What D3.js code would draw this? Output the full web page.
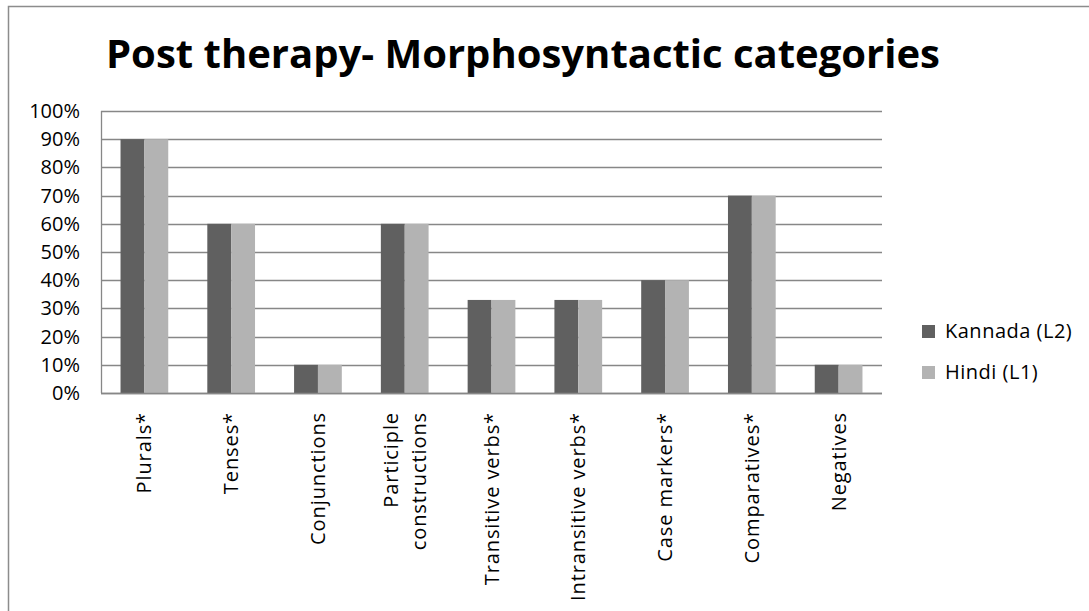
<!DOCTYPE html>
<html>
<head>
<meta charset="utf-8">
<script src="https://cdn.jsdelivr.net/npm/d3@7"></script>
<style>
  body { margin: 0; background: #fff; }
  text { font-family: "Open Sans", "Noto Sans", sans-serif; fill: #000; }
</style>
</head>
<body>
<div id="chart"></div>
<script>
const categories = ["Plurals*", "Tenses*", "Conjunctions", "Participle constructions",
  "Transitive verbs*", "Intransitive verbs*", "Case markers*", "Comparatives*", "Negatives"];
const seriesNames = ["Kannada (L2)", "Hindi (L1)"];
const kannada = [0.9, 0.6, 0.1, 0.6, 0.33, 0.33, 0.4, 0.7, 0.1];
const hindi = [0.9, 0.6, 0.1, 0.6, 0.33, 0.33, 0.4, 0.7, 0.1];
const yTicks = [0, 0.1, 0.2, 0.3, 0.4, 0.5, 0.6, 0.7, 0.8, 0.9, 1.0];
const colors = ["#606060", "#b3b3b3"];

let dimensions = {
  width: 1089,
  height: 611,
  margin: { top: 111, right: 207, bottom: 218, left: 101 }
};
dimensions.boundedWidth = dimensions.width - dimensions.margin.left - dimensions.margin.right;
dimensions.boundedHeight = dimensions.height - dimensions.margin.top - dimensions.margin.bottom;

let svgRoot = d3.select("#chart").append("svg")
  .attr("width", dimensions.width)
  .attr("height", dimensions.height);

// outer chart frame
svgRoot.append("rect")
  .attr("x", 8.5).attr("y", 6.5)
  .attr("width", 1200).attr("height", 800)
  .attr("fill", "none")
  .attr("stroke", "#8c8c8c")
  .attr("stroke-width", 1.5);

svgRoot.append("text")
  .attr("x", 523).attr("y", 68)
  .attr("text-anchor", "middle")
  .style("font-size", "40px")
  .style("font-weight", "bold")
  .text("Post therapy- Morphosyntactic categories");

let svg = svgRoot.append("g")
  .attr("transform", `translate(${dimensions.margin.left},${dimensions.margin.top})`);

let x = d3.scaleBand()
  .domain(categories)
  .range([0, dimensions.boundedWidth])
  .paddingInner(0.45)
  .paddingOuter(0.225);

let xSub = d3.scaleBand()
  .domain(seriesNames)
  .range([0, x.bandwidth()]);

let y = d3.scaleLinear()
  .domain([0, 1])
  .range([dimensions.boundedHeight, 0]);

// gridlines
svg.selectAll("line.grid")
  .data(yTicks)
  .enter()
  .append("line")
  .attr("class", "grid")
  .attr("x1", 0)
  .attr("x2", dimensions.boundedWidth)
  .attr("y1", d => Math.round(y(d)) + 0.5)
  .attr("y2", d => Math.round(y(d)) + 0.5)
  .attr("stroke", "#878787")
  .attr("stroke-width", 1.3);

svg.append("line")
  .attr("x1", 0.5).attr("x2", 0.5)
  .attr("y1", 0).attr("y2", dimensions.boundedHeight)
  .attr("stroke", "#878787")
  .attr("stroke-width", 1.3);

// y labels
let yAxis = d3.axisLeft(y)
  .tickValues(yTicks)
  .tickFormat(d3.format(".0%"))
  .tickSize(0)
  .tickPadding(21);
svg.append("g")
  .call(yAxis)
  .call(g => g.select(".domain").remove())
  .selectAll("text")
  .style("font-size", "20px")
  .style("font-family", "'Open Sans', sans-serif")
  .attr("fill", "#000");

// bars
let data = categories.map((c, i) => ({ cat: c, vals: [kannada[i], hindi[i]] }));
let groups = svg.selectAll("g.cat")
  .data(data)
  .enter()
  .append("g")
  .attr("class", "cat")
  .attr("transform", d => `translate(${x(d.cat)},0)`);

groups.selectAll("rect")
  .data(d => d.vals.map((v, j) => ({ name: seriesNames[j], value: v, j: j })))
  .enter()
  .append("rect")
  .attr("x", d => xSub(d.name))
  .attr("width", xSub.bandwidth())
  .attr("y", d => y(d.value))
  .attr("height", d => y(0) - y(d.value))
  .attr("fill", d => colors[d.j]);

// baseline
svg.append("line")
  .attr("x1", 0).attr("x2", dimensions.boundedWidth)
  .attr("y1", dimensions.boundedHeight + 0.5)
  .attr("y2", dimensions.boundedHeight + 0.5)
  .attr("stroke", "#878787")
  .attr("stroke-width", 1.5);

// x labels, rotated
let labels = svg.selectAll("text.xlab")
  .data(categories)
  .enter()
  .append("text")
  .attr("class", "xlab")
  .attr("text-anchor", "end")
  .style("font-size", "20px")
  .style("letter-spacing", "0.9px")
  .attr("transform", d => `translate(${x(d) + x.bandwidth() / 2},${dimensions.boundedHeight + 19}) rotate(-90)`);

labels.each(function (d) {
  let parts = d === "Participle constructions" ? ["Participle", "constructions"] : [d];
  let t = d3.select(this);
  let n = parts.length;
  parts.forEach((p, k) => {
    t.append("tspan")
      .attr("x", 0)
      .attr("y", (k - (n - 1) / 2) * 28 + 7)
      .text(p);
  });
});

// legend
let legend = svgRoot.append("g")
  .attr("transform", "translate(922,331)");
seriesNames.forEach((name, i) => {
  let row = legend.append("g").attr("transform", `translate(0,${i * 41})`);
  row.append("rect")
    .attr("x", 0).attr("y", -6)
    .attr("width", 13).attr("height", 13)
    .attr("fill", colors[i]);
  row.append("text")
    .attr("x", 23).attr("y", 7)
    .style("font-size", "20px")
    .style("letter-spacing", "0.5px")
    .text(name);
});
</script>
</body>
</html>
